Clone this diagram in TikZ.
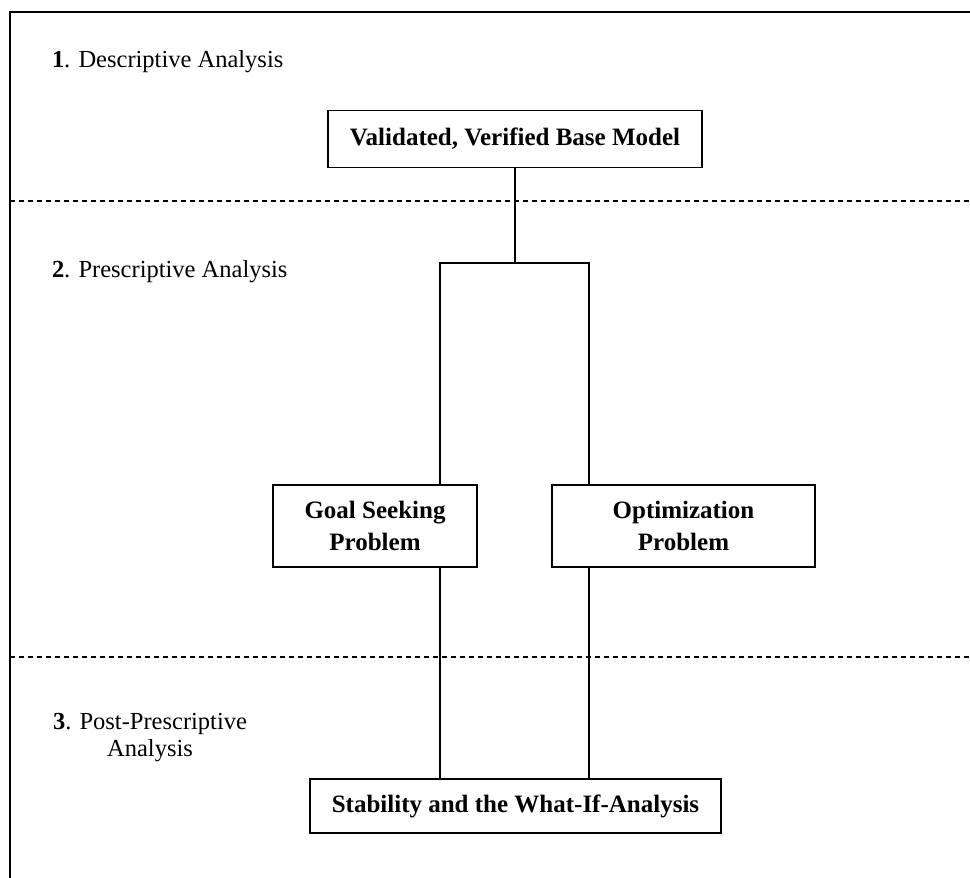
\documentclass[tikz,border=0pt]{standalone}
\usepackage{fontspec}
\setmainfont{Liberation Serif}
\begin{document}
\begin{tikzpicture}[x=1pt,y=-1pt,
  every node/.style={inner sep=0pt, outer sep=0pt},
  boxnode/.style={draw, line width=1.4pt, align=center, font=\fontsize{25}{32}\selectfont\bfseries},
  lbl/.style={font=\fontsize{24.5}{27}\selectfont, align=center},
  conn/.style={line width=1.3pt},
  sep/.style={line width=1.1pt, dash pattern=on 5pt off 4pt}]
\useasboundingbox (0,0) rectangle (970,878);
% frame
\draw[line width=1.4pt] (970,12) -- (10,12) -- (10,878);
% separators
\draw[sep] (10,201) -- (970,201);
\draw[sep] (10,657) -- (970,657);
% labels
\node[lbl, anchor=west] (l1) at (52,62) {\textbf{1}. Descriptive Analysis};
\node[lbl, anchor=west] (l2) at (52,272) {\textbf{2}. Prescriptive Analysis};
\node[lbl] (l3) at (150,738) {\textbf{3}. Post-Prescriptive\\Analysis};
% boxes
\node[boxnode, minimum width=374pt, minimum height=57pt] (val) at (515,139) {Validated, Verified Base Model};
\node[boxnode, minimum width=204pt, minimum height=82pt] (goal) at (375,526) {Goal Seeking\\Problem};
\node[boxnode, minimum width=263pt, minimum height=82pt] (opt) at (683.5,526) {Optimization\\Problem};
\node[boxnode, minimum width=411pt, minimum height=54pt] (stab) at (515.5,806) {Stability and the What-If-Analysis};
% junction coordinates
\coordinate (split) at (515,263);
\coordinate (jl) at (440,263);
\coordinate (jr) at (589,263);
% connectors
\draw[conn] (val.south) -- (split);
\draw[conn] (goal.north -| jl) -- (jl) -- (jr) -- (opt.north -| jr);
\draw[conn] (goal.south -| jl) -- (stab.north -| jl);
\draw[conn] (opt.south -| jr) -- (stab.north -| jr);
\end{tikzpicture}
\end{document}
